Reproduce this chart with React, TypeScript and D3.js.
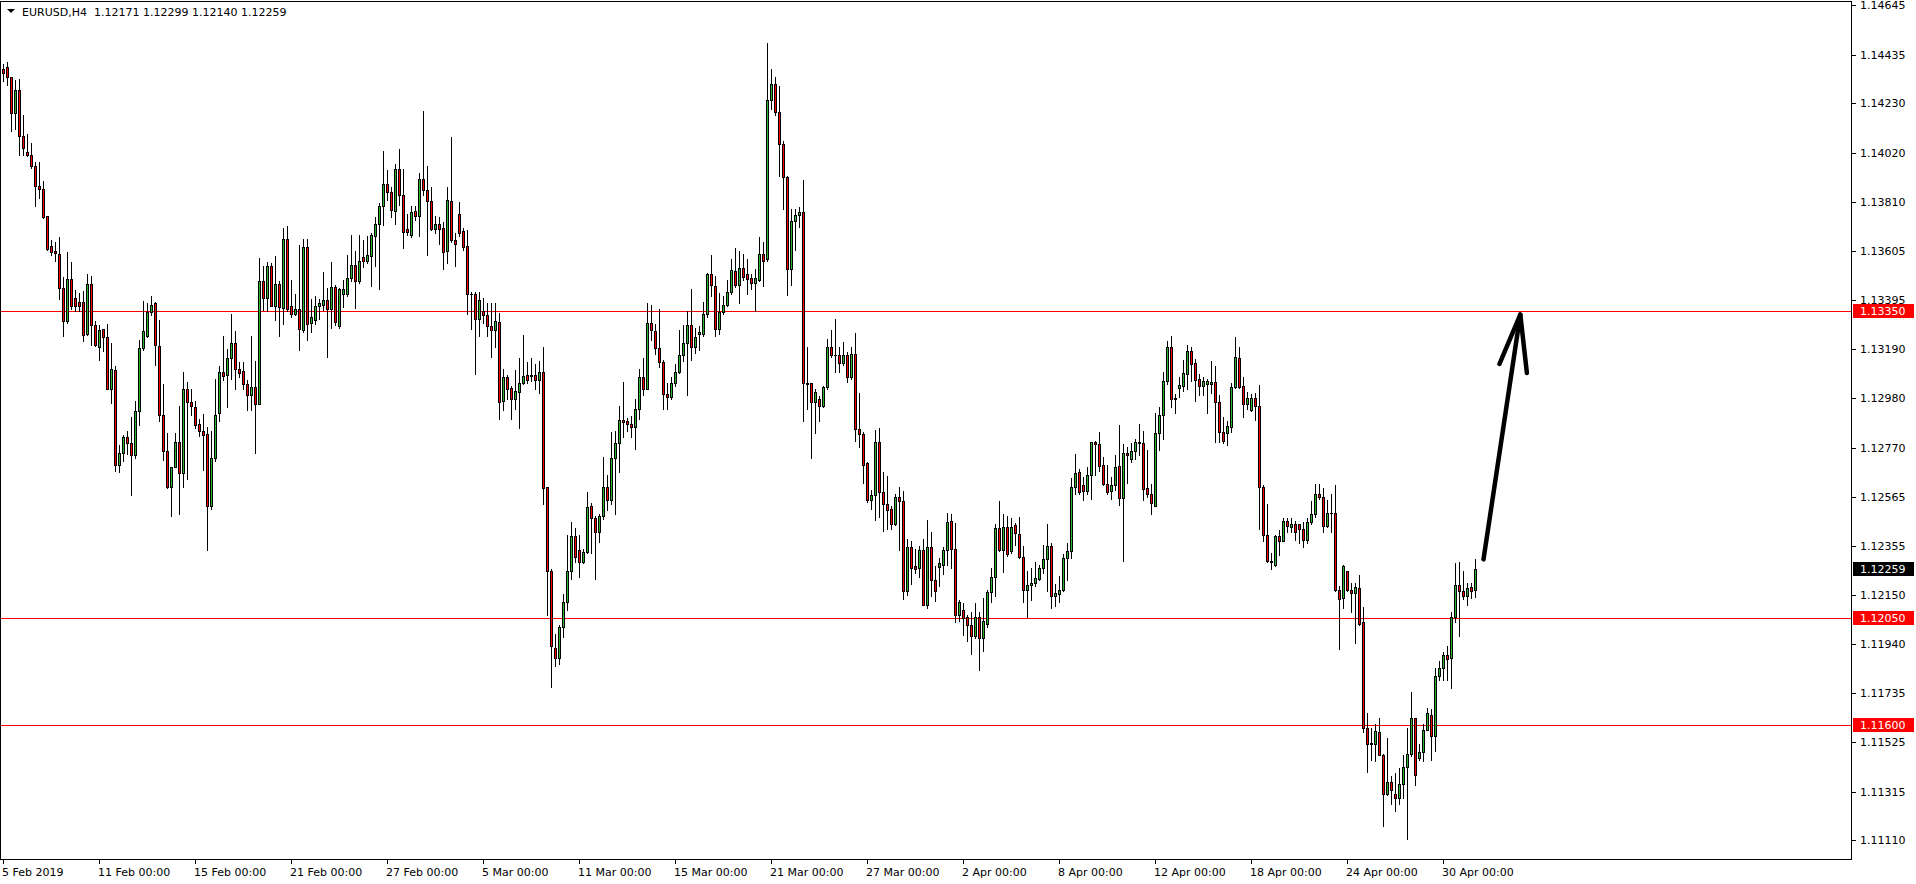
import React from "react";
import * as d3 from "d3";

// ---- Data: EURUSD H4, bar 0 = 5 Feb 2019 00:00 ----
const opens = [1.14375,1.14382,1.14340,1.14189,1.14287,1.14090,1.14022,1.14008,1.13962,1.13881,1.13865,1.13753,1.13626,1.13602,1.13593,1.13447,1.13308,1.13486,1.13405,1.13389,1.13389,1.13254,1.13466,1.13292,1.13199,1.13273,1.13240,1.13022,1.13099,1.12698,1.12749,1.12818,1.12790,1.12739,1.12925,1.13192,1.13245,1.13347,1.13382,1.13203,1.12909,1.12758,1.12605,1.12691,1.12795,1.12663,1.13022,1.12964,1.12944,1.12872,1.12844,1.12828,1.12524,1.12728,1.12920,1.13094,1.13080,1.13152,1.13215,1.13106,1.13097,1.13041,1.12995,1.13027,1.12955,1.13477,1.13405,1.13540,1.13373,1.13463,1.13361,1.13656,1.13373,1.13338,1.13359,1.13268,1.13619,1.13301,1.13312,1.13373,1.13377,1.13396,1.13359,1.13452,1.13285,1.13424,1.13424,1.13489,1.13544,1.13475,1.13579,1.13563,1.13584,1.13667,1.13718,1.13793,1.13888,1.13853,1.13774,1.13950,1.13841,1.13695,1.13672,1.13772,1.13753,1.13909,1.13860,1.13814,1.13698,1.13718,1.13702,1.13602,1.13814,1.13651,1.13760,1.13688,1.13623,1.13424,1.13424,1.13315,1.13352,1.13333,1.13285,1.13268,1.13303,1.12971,1.13069,1.13025,1.12976,1.13006,1.13046,1.13080,1.13078,1.13080,1.13060,1.13092,1.12605,1.12248,1.11923,1.11881,1.12013,1.12120,1.12252,1.12396,1.12340,1.12287,1.12329,1.12524,1.12473,1.12415,1.12484,1.12605,1.12549,1.12728,1.12793,1.12890,1.12883,1.12872,1.12860,1.12937,1.13071,1.13022,1.13301,1.13264,1.13192,1.13134,1.12999,1.12988,1.13046,1.13094,1.13162,1.13215,1.13292,1.13199,1.13254,1.13254,1.13338,1.13505,1.13454,1.13273,1.13347,1.13377,1.13431,1.13519,1.13459,1.13533,1.13505,1.13489,1.13470,1.13482,1.13593,1.13568,1.14243,1.14312,1.14194,1.14057,1.13918,1.13528,1.13730,1.13756,1.13767,1.13046,1.13046,1.12964,1.12978,1.12948,1.13027,1.13199,1.13164,1.13164,1.13129,1.13164,1.13069,1.13169,1.12851,1.12828,1.12705,1.12549,1.12570,1.12797,1.12584,1.12535,1.12512,1.12449,1.12565,1.12547,1.12166,1.12352,1.12271,1.12264,1.12338,1.12108,1.12350,1.12213,1.12268,1.12275,1.12338,1.12461,1.12345,1.12062,1.12083,1.12055,1.12020,1.11974,1.12055,1.11967,1.12025,1.12159,1.12224,1.12431,1.12338,1.12438,1.12333,1.12445,1.12408,1.12310,1.12171,1.12190,1.12199,1.12217,1.12264,1.12299,1.12357,1.12143,1.12152,1.12171,1.12306,1.12333,1.12607,1.12670,1.12614,1.12589,1.12654,1.12797,1.12786,1.12700,1.12616,1.12589,1.12612,1.12693,1.12558,1.12751,1.12723,1.12756,1.12797,1.12790,1.12600,1.12577,1.12526,1.12832,1.12909,1.13053,1.13199,1.12978,1.13025,1.13034,1.13083,1.13180,1.13129,1.13064,1.13034,1.13041,1.13041,1.13048,1.12967,1.12837,1.12832,1.12860,1.13027,1.13152,1.13034,1.12955,1.12932,1.12983,1.12948,1.12605,1.12403,1.12294,1.12275,1.12398,1.12375,1.12461,1.12438,1.12449,1.12449,1.12426,1.12380,1.12456,1.12489,1.12577,1.12565,1.12442,1.12496,1.12496,1.12171,1.12136,1.12248,1.12171,1.12155,1.12178,1.12032,1.11586,1.11517,1.11517,1.11568,1.11470,1.11308,1.11359,1.11305,1.11289,1.11347,1.11422,1.11475,1.11626,1.11459,1.11482,1.11579,1.11642,1.11552,1.11804,1.11841,1.11893,1.11881,1.12055,1.12190,1.12166,1.12143,1.12183,1.12171];
const highs = [1.14394,1.14403,1.14340,1.14329,1.14333,1.14178,1.14097,1.14062,1.13981,1.13981,1.13899,1.13753,1.13649,1.13644,1.13663,1.13493,1.13598,1.13556,1.13440,1.13428,1.13435,1.13505,1.13498,1.13308,1.13292,1.13273,1.13296,1.13215,1.13118,1.12781,1.12825,1.12844,1.12902,1.12971,1.13227,1.13394,1.13384,1.13412,1.13389,1.13312,1.13041,1.12832,1.12691,1.12832,1.12948,1.13094,1.13048,1.13022,1.12971,1.12895,1.12913,1.12860,1.12844,1.13064,1.13118,1.13245,1.13190,1.13336,1.13266,1.13134,1.13134,1.13057,1.13243,1.13138,1.13575,1.13540,1.13558,1.13551,1.13582,1.13475,1.13702,1.13709,1.13482,1.13424,1.13628,1.13656,1.13656,1.13401,1.13412,1.13401,1.13517,1.13447,1.13556,1.13459,1.13447,1.13482,1.13586,1.13672,1.13605,1.13672,1.13651,1.13667,1.13679,1.13749,1.13807,1.14027,1.13946,1.13876,1.13974,1.14034,1.13950,1.13760,1.13795,1.13795,1.13934,1.14196,1.13962,1.13876,1.13751,1.13749,1.13725,1.13876,1.14085,1.13679,1.13811,1.13702,1.13691,1.13431,1.13431,1.13431,1.13405,1.13382,1.13382,1.13382,1.13343,1.13104,1.13078,1.13034,1.13099,1.13150,1.13250,1.13134,1.13152,1.13127,1.13138,1.13199,1.12605,1.12257,1.11985,1.12020,1.12152,1.12403,1.12456,1.12431,1.12403,1.12345,1.12584,1.12538,1.12484,1.12491,1.12732,1.12658,1.12839,1.12844,1.12948,1.13050,1.12897,1.12906,1.12978,1.13106,1.13150,1.13384,1.13375,1.13296,1.13359,1.13141,1.13046,1.13069,1.13127,1.13268,1.13292,1.13350,1.13442,1.13280,1.13285,1.13389,1.13510,1.13586,1.13498,1.13428,1.13412,1.13482,1.13570,1.13616,1.13602,1.13591,1.13570,1.13505,1.13528,1.13663,1.13640,1.14484,1.14375,1.14340,1.14301,1.14069,1.13923,1.13783,1.13783,1.13788,1.13904,1.13196,1.13046,1.13018,1.12990,1.13034,1.13231,1.13268,1.13315,1.13199,1.13220,1.13176,1.13199,1.13257,1.13002,1.12839,1.12709,1.12593,1.12848,1.12855,1.12670,1.12651,1.12526,1.12577,1.12607,1.12589,1.12384,1.12375,1.12345,1.12357,1.12384,1.12466,1.12415,1.12271,1.12306,1.12352,1.12496,1.12489,1.12454,1.12129,1.12113,1.12062,1.12078,1.12113,1.12078,1.12136,1.12171,1.12264,1.12449,1.12547,1.12491,1.12484,1.12473,1.12454,1.12477,1.12357,1.12252,1.12264,1.12287,1.12275,1.12361,1.12449,1.12368,1.12194,1.12229,1.12322,1.12368,1.12642,1.12744,1.12681,1.12647,1.12688,1.12797,1.12802,1.12839,1.12732,1.12698,1.12647,1.12739,1.12867,1.12786,1.12774,1.12790,1.12809,1.12872,1.12844,1.12763,1.12616,1.12918,1.12944,1.13094,1.13222,1.13243,1.12999,1.13069,1.13141,1.13208,1.13196,1.13145,1.13083,1.13069,1.13064,1.13138,1.13118,1.12995,1.12902,1.12883,1.13046,1.13238,1.13199,1.13071,1.13006,1.12999,1.13002,1.13036,1.12612,1.12535,1.12326,1.12403,1.12422,1.12473,1.12473,1.12473,1.12461,1.12449,1.12456,1.12473,1.12547,1.12619,1.12619,1.12600,1.12549,1.12577,1.12612,1.12187,1.12275,1.12252,1.12199,1.12199,1.12234,1.12097,1.11649,1.11584,1.11603,1.11626,1.11475,1.11545,1.11382,1.11394,1.11417,1.11470,1.11586,1.11737,1.11630,1.11517,1.11603,1.11672,1.11665,1.11839,1.11869,1.11909,1.11932,1.12078,1.12282,1.12287,1.12252,1.12201,1.12201,1.12299];
const lows = [1.14324,1.14305,1.14113,1.14120,1.14008,1.14008,1.14004,1.13957,1.13795,1.13830,1.13742,1.13609,1.13586,1.13563,1.13401,1.13245,1.13301,1.13359,1.13350,1.13350,1.13222,1.13250,1.13208,1.13203,1.13141,1.13180,1.13018,1.12960,1.12674,1.12670,1.12716,1.12744,1.12572,1.12728,1.12867,1.13185,1.13238,1.13331,1.13122,1.12886,1.12721,1.12600,1.12484,1.12688,1.12491,1.12607,1.12640,1.12909,1.12855,1.12821,1.12677,1.12338,1.12512,1.12716,1.12886,1.13060,1.12944,1.13064,1.13018,1.13071,1.13018,1.12930,1.12930,1.12751,1.12955,1.13354,1.13350,1.13373,1.13312,1.13245,1.13296,1.13350,1.13324,1.13331,1.13187,1.13261,1.13227,1.13261,1.13296,1.13315,1.13354,1.13157,1.13278,1.13292,1.13280,1.13366,1.13412,1.13477,1.13361,1.13468,1.13535,1.13551,1.13454,1.13540,1.13442,1.13714,1.13818,1.13749,1.13718,1.13800,1.13616,1.13672,1.13663,1.13737,1.13667,1.13841,1.13586,1.13691,1.13679,1.13633,1.13528,1.13551,1.13644,1.13540,1.13667,1.13609,1.13336,1.13273,1.13083,1.13245,1.13301,1.13243,1.13157,1.13199,1.12895,1.12932,1.12976,1.12895,1.12937,1.12855,1.13041,1.13046,1.13053,1.13022,1.13002,1.12535,1.12062,1.11760,1.11846,1.11858,1.11969,1.12085,1.12217,1.12287,1.12224,1.12282,1.12327,1.12327,1.12217,1.12373,1.12468,1.12507,1.12535,1.12489,1.12670,1.12816,1.12844,1.12816,1.12767,1.12895,1.12995,1.13022,1.13227,1.13169,1.13111,1.12937,1.12937,1.12978,1.13034,1.13087,1.13138,1.12995,1.13141,1.13173,1.13187,1.13245,1.13326,1.13412,1.13245,1.13254,1.13336,1.13370,1.13424,1.13452,1.13382,1.13482,1.13424,1.13442,1.13350,1.13475,1.13454,1.13563,1.14206,1.14178,1.13923,1.13783,1.13419,1.13459,1.13609,1.13707,1.12883,1.12937,1.12728,1.12832,1.12883,1.12944,1.13022,1.13157,1.13094,1.13094,1.13122,1.13048,1.13064,1.12802,1.12774,1.12623,1.12542,1.12512,1.12466,1.12477,1.12419,1.12426,1.12426,1.12445,1.12338,1.12132,1.12148,1.12194,1.12241,1.12224,1.12108,1.12094,1.12143,1.12125,1.12187,1.12236,1.12275,1.12264,1.12036,1.12039,1.11978,1.11955,1.11897,1.11967,1.11830,1.11911,1.12013,1.12118,1.12143,1.12333,1.12245,1.12315,1.12327,1.12361,1.12303,1.12120,1.12055,1.12129,1.12187,1.12213,1.12241,1.12166,1.12094,1.12101,1.12118,1.12164,1.12210,1.12303,1.12577,1.12577,1.12549,1.12577,1.12554,1.12658,1.12674,1.12612,1.12577,1.12554,1.12593,1.12531,1.12292,1.12623,1.12709,1.12723,1.12739,1.12549,1.12561,1.12491,1.12526,1.12763,1.12809,1.13041,1.12944,1.12920,1.12988,1.13013,1.13022,1.13053,1.12971,1.12995,1.12995,1.12920,1.13002,1.12797,1.12797,1.12790,1.12781,1.12837,1.13025,1.13025,1.12902,1.12937,1.12925,1.12890,1.12426,1.12375,1.12287,1.12257,1.12271,1.12317,1.12375,1.12415,1.12415,1.12380,1.12368,1.12352,1.12368,1.12449,1.12477,1.12554,1.12415,1.12438,1.12415,1.12164,1.11920,1.12094,1.12166,1.12078,1.11944,1.12020,1.11568,1.11401,1.11452,1.11447,1.11470,1.11173,1.11301,1.11266,1.11236,1.11266,1.11289,1.11115,1.11468,1.11343,1.11452,1.11445,1.11579,1.11452,1.11487,1.11788,1.11788,1.11788,1.11753,1.12032,1.11974,1.12132,1.12106,1.12136,1.12140];
const closes = [1.14359,1.14340,1.14189,1.14287,1.14090,1.14039,1.14008,1.13962,1.13881,1.13865,1.13749,1.13614,1.13598,1.13596,1.13447,1.13308,1.13486,1.13373,1.13373,1.13373,1.13250,1.13466,1.13292,1.13208,1.13268,1.13240,1.13022,1.13104,1.12698,1.12749,1.12818,1.12790,1.12739,1.12925,1.13192,1.13264,1.13347,1.13377,1.13208,1.12909,1.12758,1.12605,1.12691,1.12795,1.12663,1.13022,1.12964,1.12948,1.12867,1.12844,1.12825,1.12524,1.12728,1.12911,1.13094,1.13076,1.13152,1.13215,1.13106,1.13087,1.13041,1.12995,1.13029,1.12955,1.13477,1.13405,1.13540,1.13373,1.13466,1.13366,1.13656,1.13359,1.13338,1.13359,1.13273,1.13619,1.13296,1.13324,1.13373,1.13382,1.13396,1.13359,1.13452,1.13303,1.13442,1.13442,1.13491,1.13544,1.13475,1.13563,1.13563,1.13589,1.13672,1.13718,1.13793,1.13888,1.13853,1.13776,1.13950,1.13841,1.13686,1.13686,1.13770,1.13753,1.13909,1.13860,1.13814,1.13698,1.13718,1.13698,1.13598,1.13818,1.13649,1.13633,1.13681,1.13621,1.13424,1.13420,1.13315,1.13396,1.13331,1.13285,1.13268,1.13308,1.12967,1.13069,1.13022,1.12976,1.13011,1.13046,1.13076,1.13060,1.13073,1.13060,1.13092,1.12600,1.12248,1.11932,1.11881,1.12013,1.12120,1.12248,1.12396,1.12310,1.12287,1.12329,1.12519,1.12473,1.12415,1.12484,1.12605,1.12549,1.12728,1.12793,1.12890,1.12879,1.12872,1.12860,1.12937,1.13071,1.13022,1.13301,1.13268,1.13192,1.13134,1.12999,1.12988,1.13046,1.13094,1.13162,1.13215,1.13292,1.13199,1.13238,1.13261,1.13338,1.13505,1.13459,1.13273,1.13347,1.13377,1.13431,1.13524,1.13459,1.13533,1.13493,1.13486,1.13470,1.13489,1.13593,1.13563,1.14243,1.14312,1.14194,1.14057,1.13916,1.13528,1.13732,1.13756,1.13767,1.13046,1.13043,1.12964,1.13006,1.12948,1.13027,1.13199,1.13164,1.13162,1.13129,1.13164,1.13069,1.13169,1.12851,1.12828,1.12700,1.12549,1.12570,1.12797,1.12584,1.12535,1.12507,1.12449,1.12565,1.12547,1.12166,1.12352,1.12264,1.12257,1.12338,1.12108,1.12350,1.12210,1.12166,1.12282,1.12338,1.12456,1.12345,1.12062,1.12120,1.12050,1.12020,1.11974,1.12055,1.11967,1.12039,1.12159,1.12224,1.12431,1.12338,1.12438,1.12322,1.12438,1.12410,1.12310,1.12171,1.12190,1.12201,1.12222,1.12264,1.12299,1.12357,1.12143,1.12155,1.12171,1.12306,1.12333,1.12607,1.12665,1.12584,1.12589,1.12654,1.12797,1.12786,1.12693,1.12619,1.12584,1.12612,1.12688,1.12558,1.12751,1.12739,1.12758,1.12797,1.12793,1.12596,1.12577,1.12538,1.12832,1.12909,1.13053,1.13199,1.12978,1.12983,1.13036,1.13087,1.13180,1.13127,1.13060,1.13034,1.13053,1.13053,1.13048,1.12967,1.12837,1.12802,1.12865,1.13027,1.13157,1.13029,1.12955,1.12983,1.12981,1.12948,1.12605,1.12403,1.12294,1.12290,1.12398,1.12375,1.12461,1.12442,1.12449,1.12415,1.12426,1.12380,1.12456,1.12491,1.12577,1.12565,1.12442,1.12496,1.12494,1.12171,1.12132,1.12271,1.12171,1.12155,1.12183,1.12027,1.11586,1.11517,1.11521,1.11572,1.11470,1.11308,1.11359,1.11324,1.11289,1.11347,1.11422,1.11475,1.11626,1.11387,1.11482,1.11579,1.11649,1.11552,1.11804,1.11841,1.11893,1.11876,1.12055,1.12190,1.12164,1.12143,1.12178,1.12166,1.12259];

const timeLabelBars = [0, 24, 48, 72, 96, 120, 144, 168, 192, 216, 240, 264, 288, 312, 336, 360];
const timeLabels = ["5 Feb 2019", "11 Feb 00:00", "15 Feb 00:00", "21 Feb 00:00", "27 Feb 00:00", "5 Mar 00:00", "11 Mar 00:00", "15 Mar 00:00", "21 Mar 00:00", "27 Mar 00:00", "2 Apr 00:00", "8 Apr 00:00", "12 Apr 00:00", "18 Apr 00:00", "24 Apr 00:00", "30 Apr 00:00"];
const priceTicks = [1.14645, 1.14435, 1.1423, 1.1402, 1.1381, 1.13605, 1.13395, 1.1319, 1.1298, 1.1277, 1.12565, 1.12355, 1.1215, 1.1194, 1.11735, 1.11525, 1.11315, 1.1111];
const levelLines = [1.1335, 1.1205, 1.116];
const symbolTitle = "EURUSD,H4";
const lastBar = { open: 1.12171, high: 1.12299, low: 1.1214, close: 1.12259 };
// hand-drawn arrow (bar index, price)
const arrowShaft = [ { bar: 370.0, price: 1.12299 }, { bar: 379.2, price: 1.13335 } ];
const arrowHead = [ { bar: 374.0, price: 1.13126 }, { bar: 379.2, price: 1.13335 }, { bar: 380.85, price: 1.13088 } ];

const W = 1916, H = 884;
const PLOT_RIGHT = 1851;
const PLOT_BOTTOM = 859;

export default function App() {
  const x = d3.scaleLinear().domain([0, 1]).range([3, 7]);
  const y = d3.scaleLinear().domain([1.116, 1.1335]).range([724.6, 311]);
  const fmt = d3.format(".5f");
  const font = "'DejaVu Sans', Tahoma, sans-serif";

  const line = d3.line<{ bar: number; price: number }>()
    .x((d) => x(d.bar) + 0.5)
    .y((d) => y(d.price));

  const candles = opens.map((o, i) => {
    const c = closes[i];
    const hi = Math.max(highs[i], o, c);
    const lo = Math.min(lows[i], o, c);
    const cx = Math.round(x(i));
    const yH = Math.round(y(hi));
    const yL = Math.round(y(lo));
    const top = Math.round(y(Math.max(o, c)));
    const bot = Math.round(y(Math.min(o, c)));
    const bull = c > o;
    return (
      <g key={i}>
        <rect x={cx} y={yH} width={1} height={yL - yH + 1} fill="#000" />
        <rect x={cx - 1} y={top} width={3} height={bot - top + 1} fill="#000" />
        {bot - top >= 2 && (
          <rect x={cx} y={top + 1} width={1} height={bot - top - 1} fill={bull ? "#2db52d" : "#ff0000"} />
        )}
      </g>
    );
  });

  const lastY = Math.round(y(lastBar.close));

  return (
    <>
      <style>{`body{margin:0;background:#fff}`}</style>
      <svg width={W} height={H} style={{ position: "absolute", left: 0, top: 0, display: "block" }} shapeRendering="crispEdges">
        <rect x={0} y={0} width={W} height={H} fill="#fff" />
        {levelLines.map((p) => (
          <rect key={p} x={1} y={Math.round(y(p))} width={PLOT_RIGHT - 1} height={1} fill="#ff0000" />
        ))}
        {candles}
        <rect x={0.5} y={1.5} width={PLOT_RIGHT} height={PLOT_BOTTOM - 1} fill="none" stroke="#000" strokeWidth={1} />
        <path d="M7,9 L15,9 L11,13 Z" fill="#000" shapeRendering="auto" />
        <text x={22} y={16} fontFamily={font} fontSize={11} fill="#000">
          {symbolTitle}{"\u00a0\u00a0"}{fmt(lastBar.open)} {fmt(lastBar.high)} {fmt(lastBar.low)} {fmt(lastBar.close)}
        </text>
        {priceTicks.map((p) => {
          const yy = Math.round(y(p));
          return (
            <g key={p}>
              <rect x={PLOT_RIGHT + 1} y={yy} width={4} height={1} fill="#000" />
              <text x={1860} y={yy + 4} fontFamily={font} fontSize={11} fill="#000">{fmt(p)}</text>
            </g>
          );
        })}
        {levelLines.map((p) => {
          const yy = Math.round(y(p));
          return (
            <g key={"lbl" + p}>
              <rect x={PLOT_RIGHT + 2} y={yy - 7} width={61} height={14} fill="#ff0000" />
              <text x={1860} y={yy + 4} fontFamily={font} fontSize={11} fill="#fff">{fmt(p)}</text>
            </g>
          );
        })}
        <rect x={PLOT_RIGHT + 2} y={lastY - 7} width={61} height={14} fill="#000" />
        <text x={1860} y={lastY + 4} fontFamily={font} fontSize={11} fill="#fff">{fmt(lastBar.close)}</text>
        {timeLabelBars.map((b, i) => (
          <g key={b}>
            <rect x={Math.round(x(b))} y={PLOT_BOTTOM + 1} width={1} height={4} fill="#000" />
            <text x={Math.round(x(b)) - 1} y={876} fontFamily={font} fontSize={11} fill="#000">{timeLabels[i]}</text>
          </g>
        ))}
        <path d={line(arrowShaft) || ""} fill="none" stroke="#000" strokeWidth={4.5} strokeLinecap="round" strokeLinejoin="round" shapeRendering="auto" />
        <path d={line(arrowHead) || ""} fill="none" stroke="#000" strokeWidth={4.5} strokeLinecap="round" strokeLinejoin="round" shapeRendering="auto" />
      </svg>
    </>
  );
}
